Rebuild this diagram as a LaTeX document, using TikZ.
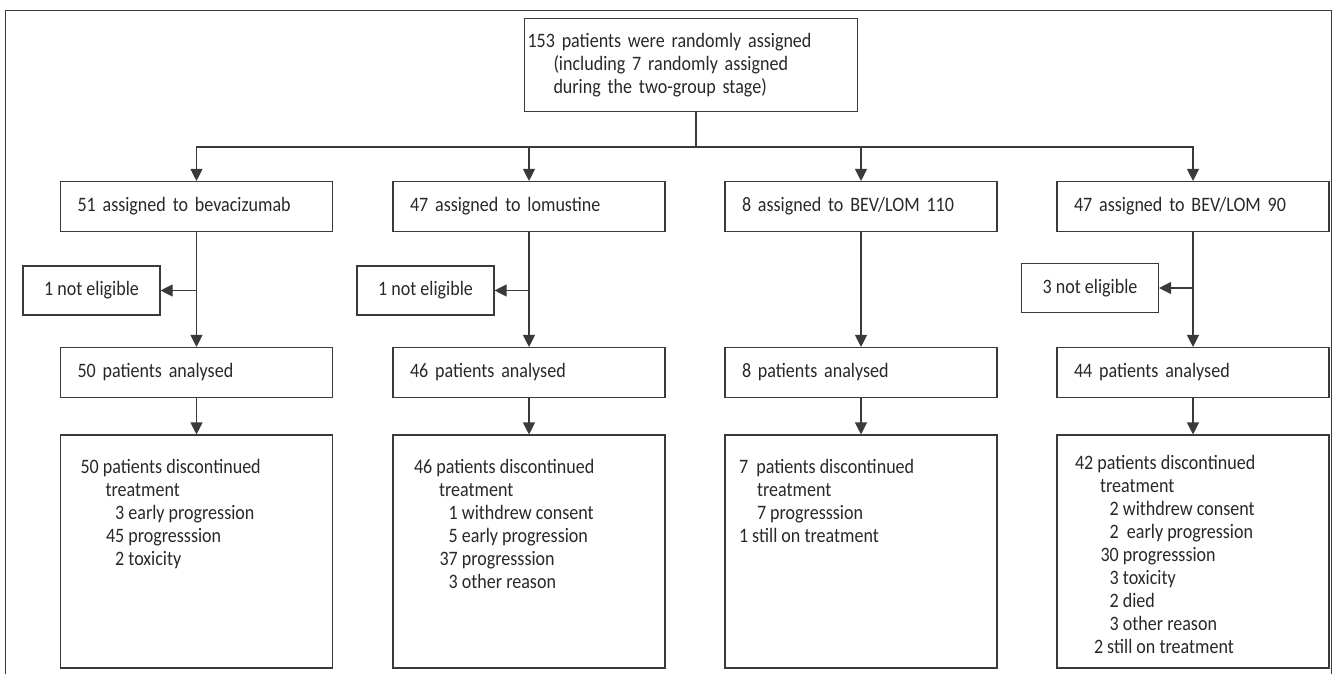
\documentclass[tikz,border=0pt]{standalone}
\usepackage{fontspec}
\setmainfont[FakeStretch=0.88]{Carlito}
\usetikzlibrary{arrows.meta,positioning}

\definecolor{linegray}{RGB}{58,58,58}
\definecolor{textgray}{RGB}{40,40,40}
\newcommand{\reason}[2]{\hspace*{25pt}\makebox[18.8pt][r]{#1} #2}

\begin{document}
\begin{tikzpicture}[
    x=1pt, y=-1pt,
    font=\fontsize{20.5}{23}\selectfont,
    text=textgray,
    box/.style={
        rectangle,
        draw=linegray,
        line width=1.1pt,
        inner ysep=0pt
    },
    topbox/.style={
        box,
        minimum width=333pt,
        minimum height=93pt,
        inner xsep=3pt,
        text width=327pt,
        align=left
    },
    armbox/.style={
        box,
        minimum width=272pt,
        minimum height=50pt,
        inner xsep=17pt,
        text width=238pt,
        align=left
    },
    exclbox/.style={
        box,
        minimum width=137pt,
        minimum height=49pt,
        align=center
    },
    outbox/.style={
        box,
        minimum width=272pt,
        minimum height=233pt,
        inner xsep=13pt,
        inner ysep=10pt
    },
    arrow/.style={
        -{Triangle[length=12pt,width=12pt]},
        line width=1.1pt,
        draw=linegray
    },
    link/.style={
        line width=1.1pt,
        draw=linegray
    },
    frame/.style={
        line width=0.9pt,
        draw=linegray
    }
]
\useasboundingbox (0,0) rectangle (1333,674);

% Page frame
\draw[frame] (5,674) -- (5,10) -- (1331,10) -- (1331,674);

% Randomisation
\node[topbox] (random) at (691,65) {
153 patients were randomly assigned\\
\hspace*{26pt}(including 7 randomly assigned\\
\hspace*{26pt}during the two-group stage)
};

% Treatment arms
\node[armbox] (bevarm) at (196.5,206.5) {51 assigned to bevacizumab};
\node[armbox] (lomarm) at (529,206.5) {47 assigned to lomustine};
\node[armbox] (c110arm) at (861,206.5) {8 assigned to BEV/LOM 110};
\node[armbox] (c90arm) at (1193,206.5) {47 assigned to BEV/LOM 90};

% Exclusions
\node[exclbox] (bevex) at (91.5,290.5) {1 not eligible};
\node[exclbox] (lomex) at (425.5,290.5) {1 not eligible};
\node[exclbox] (c90ex) at (1090,288) {3 not eligible};

% Analysed
\node[armbox] (bevan) at (196.5,372.5) {50 patients analysed};
\node[armbox] (loman) at (529,372.5) {46 patients analysed};
\node[armbox] (c110an) at (861,372.5) {8 patients analysed};
\node[armbox] (c90an) at (1193,372.5) {44 patients analysed};

% Treatment outcome
\node[outbox] (bevout) at (196.5,551.5) {\parbox[c][213pt][t]{246pt}{\raggedright
\vspace*{14pt}
\hspace*{7pt}50 patients discontinued\\
\hspace*{32pt}treatment\\
\hspace*{7pt}\reason{3}{early progression}\\
\hspace*{7pt}\reason{45}{progresssion}\\
\hspace*{7pt}\reason{2}{toxicity}}};
\node[outbox] (lomout) at (529,551.5) {\parbox[c][213pt][t]{246pt}{\raggedright
\vspace*{14pt}
\hspace*{8pt}46 patients discontinued\\
\hspace*{33pt}treatment\\
\hspace*{8pt}\reason{1}{withdrew consent}\\
\hspace*{8pt}\reason{5}{early progression}\\
\hspace*{8pt}\reason{37}{progresssion}\\
\hspace*{8pt}\reason{3}{other reason}}};
\node[outbox] (c110out) at (861,551.5) {\parbox[c][213pt][t]{246pt}{\raggedright
\vspace*{14pt}
\hspace*{1pt}7\ \ patients discontinued\\
\hspace*{19pt}treatment\\
\hspace*{19pt}7 progresssion\\
\hspace*{1pt}1 still on treatment}};
\node[outbox] (c90out) at (1193,551.5) {\parbox[c][213pt][t]{246pt}{\raggedright
\vspace*{10pt}
\hspace*{5pt}42 patients discontinued\\
\hspace*{30pt}treatment\\
\hspace*{5pt}\reason{2}{withdrew consent}\\
\hspace*{5pt}\reason{2}{\ early progression}\\
\hspace*{5pt}\reason{30}{progresssion}\\
\hspace*{5pt}\reason{3}{toxicity}\\
\hspace*{5pt}\reason{2}{died}\\
\hspace*{5pt}\reason{3}{other reason}\\
\hspace*{24pt}2 still on treatment}};

% Split into arms
\coordinate (split) at (696,147);
\draw[link] (split |- random.south) -- (split);
\foreach \arm in {bevarm,lomarm,c110arm,c90arm}
    \draw[arrow] (split) -| (\arm.north);

% Arm to analysis
\draw[arrow] (bevarm) -- (bevan);
\draw[arrow] (lomarm) -- (loman);
\draw[arrow] (c110arm) -- (c110an);
\draw[arrow] (c90arm) -- (c90an);
\draw[arrow] (bevarm.south |- bevex.east) -- (bevex.east);
\draw[arrow] (lomarm.south |- lomex.east) -- (lomex.east);
\draw[arrow] (c90arm.south |- c90ex.east) -- (c90ex.east);

% Analysis to outcome
\draw[arrow] (bevan) -- (bevout);
\draw[arrow] (loman) -- (lomout);
\draw[arrow] (c110an) -- (c110out);
\draw[arrow] (c90an) -- (c90out);

\end{tikzpicture}
\end{document}
